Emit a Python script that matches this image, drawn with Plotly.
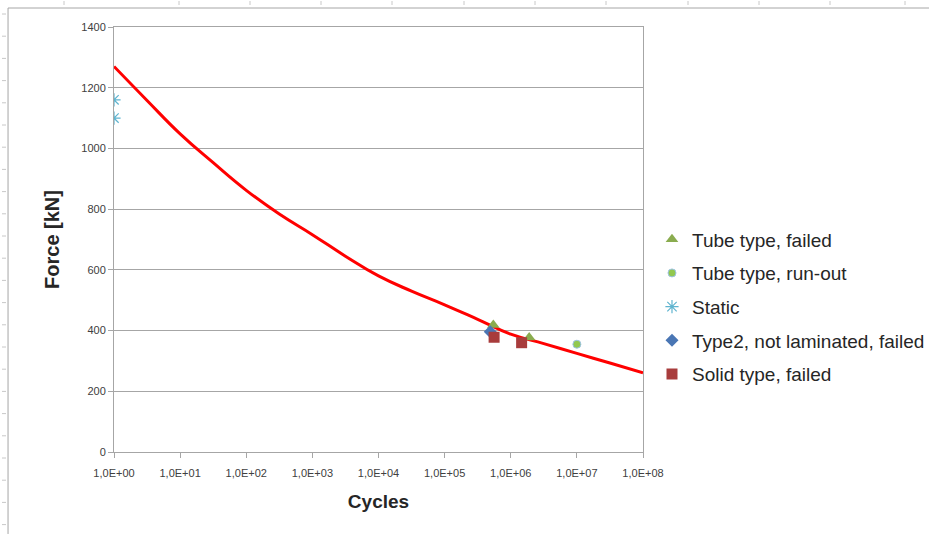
import plotly.graph_objects as go

# Fitted S-N curve, read at half-decade steps
curve_cycles = [1, 3.16e0, 1e1, 3.16e1, 1e2, 3.16e2, 1e3, 3.16e3, 1e4, 3.16e4,
                1e5, 3.16e5, 1e6, 3.16e6, 1e7, 3.16e7, 1e8]
curve_force = [1270, 1158, 1048, 953, 862, 784, 716, 645, 580, 530,
               485, 437, 388, 357, 325, 293, 261]

# Test results
tube_failed_cycles = [5.45e5, 1.9e6]
tube_failed_force = [418, 377]
tube_runout_cycles = [1.0e7]
tube_runout_force = [355]
static_cycles = [1, 1]
static_force = [1160, 1100]
type2_cycles = [4.9e5]
type2_force = [396]
solid_cycles = [5.6e5, 1.46e6]
solid_force = [378, 360]

tick_vals = [1e0, 1e1, 1e2, 1e3, 1e4, 1e5, 1e6, 1e7, 1e8]
tick_text = ["1,0E+00", "1,0E+01", "1,0E+02", "1,0E+03", "1,0E+04",
             "1,0E+05", "1,0E+06", "1,0E+07", "1,0E+08"]

FONT = "Liberation Sans"

fig = go.Figure()

fig.add_trace(go.Scatter(
    x=curve_cycles, y=curve_force, mode="lines",
    line=dict(color="#ff0000", width=3, shape="spline", smoothing=1.3),
    showlegend=False, hoverinfo="skip"))

fig.add_trace(go.Scatter(
    x=tube_failed_cycles, y=tube_failed_force, mode="markers",
    name="Tube type, failed", legendgroup="a",
    marker=dict(symbol="triangle-up", size=11, color="#8aac4f")))
fig.add_trace(go.Scatter(
    x=tube_runout_cycles, y=tube_runout_force, mode="markers",
    name="Tube type, run-out", legendgroup="b",
    marker=dict(symbol="circle", size=8, color="#92c84f",
                line=dict(color="#9dc3e6", width=1))))
fig.add_trace(go.Scatter(
    x=static_cycles, y=static_force, mode="markers",
    name="Static", legendgroup="c",
    marker=dict(symbol="asterisk-open", size=11, color="#5fb4cf",
                line=dict(color="#5fb4cf", width=1.2))))
fig.add_trace(go.Scatter(
    x=type2_cycles, y=type2_force, mode="markers",
    name="Type2, not laminated, failed", legendgroup="d",
    marker=dict(symbol="diamond", size=10, color="#4a76b4")))
fig.add_trace(go.Scatter(
    x=solid_cycles, y=solid_force, mode="markers",
    name="Solid type, failed", legendgroup="e",
    marker=dict(symbol="square", size=11, color="#a83c3c")))

# Outer chart frame and sheet ruler ticks
shapes = [
    dict(type="line", xref="paper", yref="paper", x0=-0.2003, x1=1.5444,
         y0=1.0447, y1=1.0447, line=dict(color="#a6a6a6", width=1)),
    dict(type="line", xref="paper", yref="paper", x0=-0.2003, x1=-0.2003,
         y0=1.0447, y1=-0.1929, line=dict(color="#a6a6a6", width=1)),
]
for px in [64, 179, 250, 321, 392, 464, 535, 606, 688, 759, 830, 905]:
    xp = (px - 114) / 529
    shapes.append(dict(type="line", xref="paper", yref="paper", x0=xp, x1=xp,
                       y0=(452 - 1) / 425, y1=(452 - 5) / 425,
                       line=dict(color="#c8c8c8", width=1)))
py = 14.0
while py < 534:
    yp = (452 - py) / 425
    shapes.append(dict(type="line", xref="paper", yref="paper",
                       x0=(2 - 114) / 529, x1=(6 - 114) / 529, y0=yp, y1=yp,
                       line=dict(color="#c8c8c8", width=1)))
    py += 22.2

fig.update_layout(
    width=929, height=534,
    margin=dict(l=114, r=286, t=27, b=82, autoexpand=False),
    paper_bgcolor="white", plot_bgcolor="white",
    font=dict(family=FONT, color="#404040"),
    shapes=shapes,
    legend=dict(x=1.017, y=0.545, xanchor="left", yanchor="top",
                font=dict(family=FONT, size=19, color="#262626"),
                tracegroupgap=6, itemwidth=30, bgcolor="rgba(0,0,0,0)"),
    xaxis=dict(
        type="log", range=[0, 8], tickvals=tick_vals, ticktext=tick_text,
        showgrid=False, zeroline=False,
        showline=True, linecolor="#a6a6a6", linewidth=1, mirror=True,
        ticks="outside", ticklen=5, tickcolor="#a6a6a6",
        ticklabelstandoff=6,
        tickfont=dict(family=FONT, size=11, color="#404040"),
        title=dict(text="<b>Cycles</b>", standoff=16,
                   font=dict(family=FONT, size=19, color="#262626"))),
    yaxis=dict(
        range=[0, 1400], tickvals=[0, 200, 400, 600, 800, 1000, 1200, 1400],
        showgrid=True, gridcolor="#a6a6a6", gridwidth=1, zeroline=False,
        showline=True, linecolor="#a6a6a6", linewidth=1, mirror=True,
        ticks="outside", ticklen=5, tickcolor="#a6a6a6",
        tickfont=dict(family=FONT, size=11, color="#404040"),
        title=dict(text="<b>Force [kN]</b>", standoff=16,
                   font=dict(family=FONT, size=20, color="#262626"))),
)

fig.write_html("out.html")
